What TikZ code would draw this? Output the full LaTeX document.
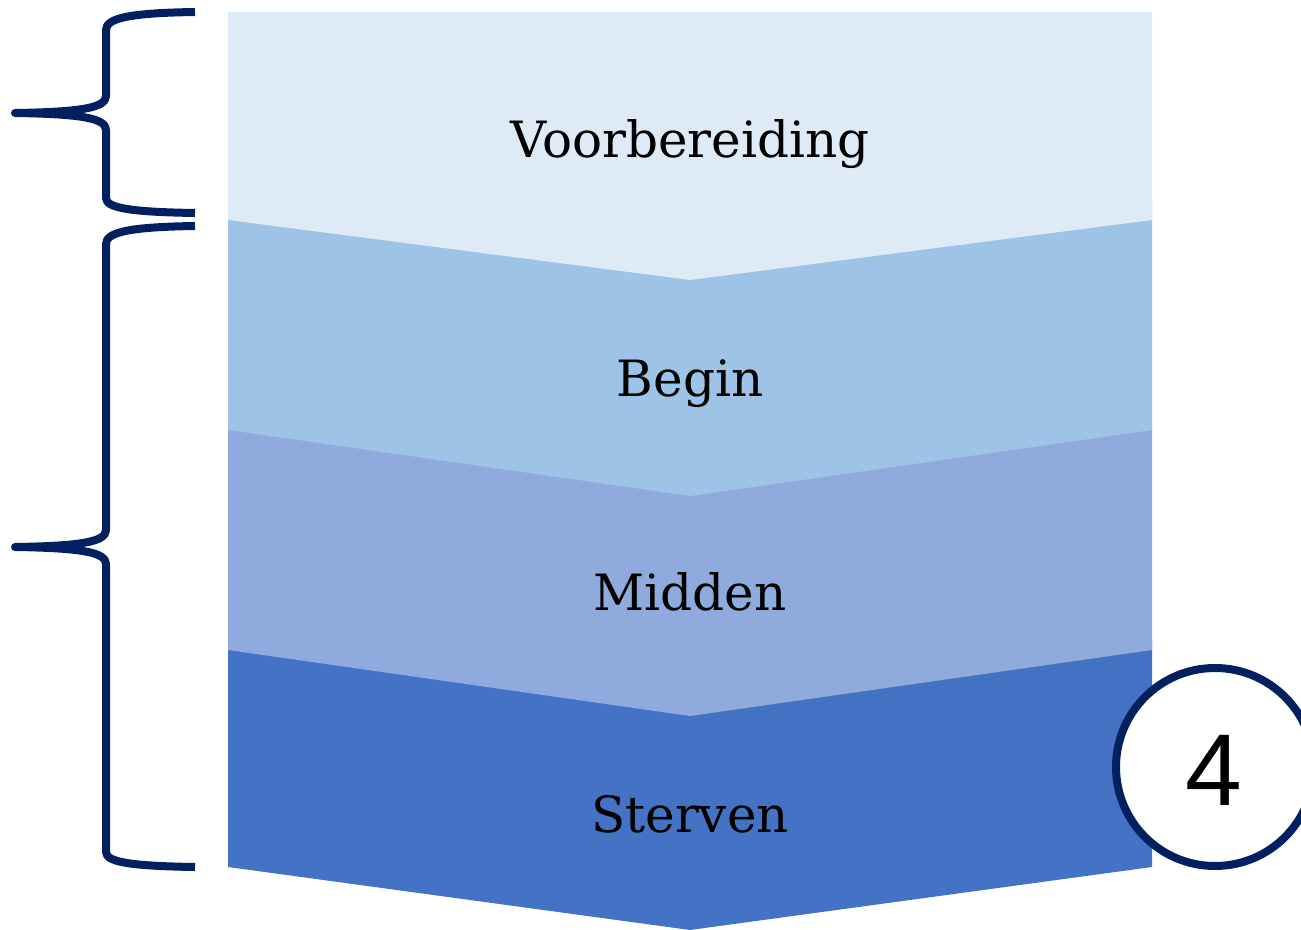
\documentclass[tikz,border=0pt]{standalone}
\usepackage{fontspec}
\setmainfont{DejaVu Serif}
\newfontfamily\numfont{Liberation Sans}
\definecolor{bandA}{RGB}{222,234,246}
\definecolor{bandB}{RGB}{157,195,230}
\definecolor{bandC}{RGB}{143,170,220}
\definecolor{bandD}{RGB}{68,114,196}
\definecolor{navy}{RGB}{0,32,96}
\tikzset{
  band/.style={draw=none},
  lbl/.style={anchor=base, inner sep=0pt, font=\fontsize{25}{30}\selectfont},
  brace/.style={draw=navy, line width=4pt, line join=round},
}
\begin{document}
\begin{tikzpicture}[x=0.5pt,y=-0.5pt]
\useasboundingbox (0,0) rectangle (1301,930);
% bands, bottom first
\fill[band, fill=bandD] (228,640) -- (1152,640) -- (1152,867) -- (690,930) -- (228,867) -- cycle;
\fill[band, fill=bandC] (228,420) -- (1152,420) -- (1152,650) -- (690,716) -- (228,650) -- cycle;
\fill[band, fill=bandB] (228,200) -- (1152,200) -- (1152,430) -- (690,496) -- (228,430) -- cycle;
\fill[band, fill=bandA] (228,12) -- (1152,12) -- (1152,220) -- (690,280) -- (228,220) -- cycle;
% labels
\node[lbl] (voor) at (690,158) {Voorbereiding};
\node[lbl] (begin) at (690,397) {Begin};
\node[lbl] (midden) at (690,610) {Midden};
\node[lbl] (sterven) at (690,832) {Sterven};
% braces
\draw[brace] (195,12) .. controls (130,13) and (106,18) .. (106,30)
  -- (106,96) .. controls (106,108) and (80,112) .. (15,113)
  .. controls (80,114) and (106,118) .. (106,130)
  -- (106,198) .. controls (106,208) and (130,212) .. (195,213);
\draw[brace] (195,226) .. controls (130,227) and (106,232) .. (106,244)
  -- (106,530) .. controls (106,542) and (80,546) .. (15,547)
  .. controls (80,548) and (106,552) .. (106,564)
  -- (106,852) .. controls (106,862) and (130,866) .. (195,867);
% number circle
\draw[navy, line width=4pt, fill=white] (1215,767) circle [radius=49.5pt];
\node[anchor=base, inner sep=0pt, font=\numfont\fontsize{51}{60}\selectfont] (num) at (1214,805) {4};
\end{tikzpicture}
\end{document}
